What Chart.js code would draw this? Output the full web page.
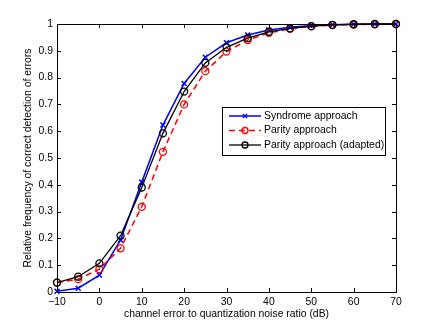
<!DOCTYPE html>
<html>
<head>
<meta charset="utf-8">
<script src="https://cdn.jsdelivr.net/npm/chart.js@4.4.1/dist/chart.umd.min.js"></script>
<style>
  body { margin: 0; background: #fff; }
  #wrap { width: 437px; height: 328px; }
</style>
</head>
<body>
<div id="wrap"><canvas id="snrChart" width="437" height="328"></canvas></div>
<script>
const snr = [-10, -5, 0, 5, 10, 15, 20, 25, 30, 35, 40, 45, 50, 55, 60, 65, 70];
const syndrome = [0.003, 0.014, 0.063, 0.194, 0.41, 0.623, 0.778, 0.876, 0.93, 0.959, 0.978, 0.988, 0.994, 0.997, 0.999, 1.0, 1.0];
const parity = [0.035, 0.048, 0.085, 0.163, 0.318, 0.523, 0.70, 0.824, 0.897, 0.94, 0.967, 0.982, 0.991, 0.996, 0.998, 0.999, 1.0];
const adapted = [0.035, 0.057, 0.107, 0.21, 0.39, 0.592, 0.748, 0.855, 0.913, 0.947, 0.971, 0.984, 0.992, 0.997, 0.999, 1.0, 1.0];
const xTicks = [-10, 0, 10, 20, 30, 40, 50, 60, 70];
const yTicks = [0, 0.1, 0.2, 0.3, 0.4, 0.5, 0.6, 0.7, 0.8, 0.9, 1];

const pts = arr => arr.map((v, i) => ({ x: snr[i], y: v }));
const FONT = 'Liberation Sans, Arial, Helvetica, sans-serif';

// MATLAB style box with inward ticks on all four sides
const boxPlugin = {
    id: 'box',
    afterDraw(chart) {
        const { ctx, chartArea: a, scales } = chart;
        ctx.save();
        ctx.strokeStyle = '#000';
        ctx.lineWidth = 1;
        ctx.strokeRect(a.left + 0.5, a.top + 0.5, a.right - a.left, a.bottom - a.top);
        ctx.beginPath();
        xTicks.forEach(t => {
            const x = Math.round(scales.x.getPixelForValue(t)) + 0.5;
            ctx.moveTo(x, a.bottom); ctx.lineTo(x, a.bottom - 4);
            ctx.moveTo(x, a.top); ctx.lineTo(x, a.top + 4);
        });
        yTicks.forEach(t => {
            const y = Math.round(scales.y.getPixelForValue(t)) + 0.5;
            ctx.moveTo(a.left, y); ctx.lineTo(a.left + 4, y);
            ctx.moveTo(a.right, y); ctx.lineTo(a.right - 4, y);
        });
        ctx.stroke();

        // legend box
        const lx = 222, ly = 107, lw = 163, lh = 48;
        ctx.fillStyle = '#fff';
        ctx.fillRect(lx, ly, lw, lh);
        ctx.strokeStyle = '#000';
        ctx.strokeRect(lx + 0.5, ly + 0.5, lw, lh);
        ctx.font = '10.4px ' + FONT;
        ctx.textBaseline = 'middle';
        chart.data.datasets.forEach((ds, i) => {
            const y = ly + 9 + i * 14.5;
            ctx.strokeStyle = ds.borderColor;
            ctx.lineWidth = ds.borderWidth;
            ctx.setLineDash(ds.borderDash || []);
            ctx.beginPath();
            ctx.moveTo(229, y); ctx.lineTo(261, y);
            ctx.stroke();
            ctx.setLineDash([]);
            ctx.fillStyle = 'rgba(0,0,0,0)';
            ctx.lineWidth = 1.3;
            Chart.helpers.drawPoint(ctx, { pointStyle: ds.pointStyle, radius: 3, borderWidth: 1.3 }, 245, y);
            ctx.fillStyle = '#000';
            ctx.fillText(ds.label, 264, y);
        });
        ctx.restore();
    }
};

new Chart(document.getElementById('snrChart').getContext('2d'), {
    type: 'line',
    data: {
        datasets: [
            {
                label: 'Syndrome approach',
                data: pts(syndrome),
                borderColor: '#0000ff',
                backgroundColor: 'transparent',
                borderWidth: 1.5,
                pointStyle: 'crossRot',
                pointRadius: 3.5,
                pointBorderWidth: 1.5,
                order: 2
            },
            {
                label: 'Parity approach',
                data: pts(parity),
                borderColor: '#ff0000',
                backgroundColor: 'transparent',
                borderWidth: 1.5,
                borderDash: [6, 4],
                pointStyle: 'circle',
                pointRadius: 3.5,
                pointBorderWidth: 1.3,
                order: 1
            },
            {
                label: 'Parity approach (adapted)',
                data: pts(adapted),
                borderColor: '#000000',
                backgroundColor: 'transparent',
                borderWidth: 1.3,
                pointStyle: 'circle',
                pointRadius: 3.5,
                pointBorderWidth: 1.3,
                order: 0
            }
        ]
    },
    options: {
        responsive: false,
        animation: false,
        clip: false,
        layout: { padding: { top: 24, right: 41, left: 22, bottom: 8 } },
        plugins: { legend: { display: false }, tooltip: { enabled: false } },
        scales: {
            x: {
                type: 'linear',
                min: -10, max: 70,
                afterFit: s => { s.height = 28; },
                afterBuildTicks: s => { s.ticks = xTicks.map(v => ({ value: v })); },
                grid: { display: false, drawTicks: false },
                border: { display: false },
                ticks: {
                    color: '#000', padding: 4, maxRotation: 0,
                    font: { family: FONT, size: 10.4 },
                    callback: v => v < 0 ? '\u2212' + (-v) : String(v)
                },
                title: {
                    display: true, text: 'channel error to quantization noise ratio (dB)',
                    color: '#000', font: { family: FONT, size: 10.4 }, padding: { top: 0, bottom: 0 }
                }
            },
            y: {
                min: 0, max: 1,
                afterFit: s => { s.width = 35; },
                afterBuildTicks: s => { s.ticks = yTicks.map(v => ({ value: v })); },
                grid: { display: false, drawTicks: false },
                border: { display: false },
                ticks: {
                    color: '#000', padding: 4,
                    font: { family: FONT, size: 10.4 },
                    callback: v => String(Number(v.toFixed(1)))
                },
                title: {
                    display: true, text: 'Relative frequency of correct detection of errors',
                    color: '#000', font: { family: FONT, size: 10.4 }, padding: { top: 0, bottom: 0 }
                }
            }
        }
    },
    plugins: [boxPlugin]
});
</script>
</body>
</html>
